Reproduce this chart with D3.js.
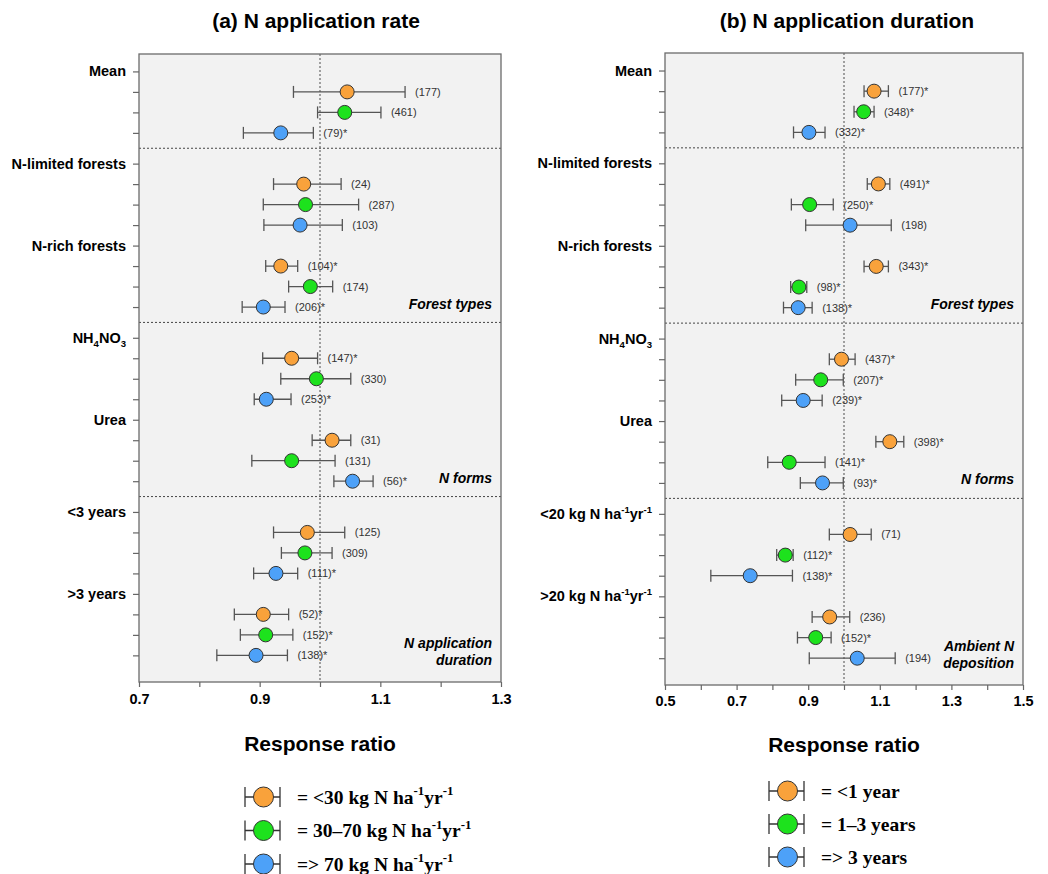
<!DOCTYPE html>
<html>
<head>
<meta charset="utf-8">
<script src="https://cdn.jsdelivr.net/npm/d3@7"></script>
<style>
  body { margin: 0; background: #fff; }
  svg { display: block; font-family: "Liberation Sans", Arial, sans-serif; }
</style>
</head>
<body>
<script>
// === data (rows: 3 series per category)
var colors = ["#F9A23B", "#1DE21D", "#4DA1F8"];

// (a) N application rate
var rateSections = [["Mean"], ["N-limited forests", "N-rich forests"], ["NH_{4}NO_{3}", "Urea"], ["<3 years", ">3 years"]];
var rateSectionTitles = ["", "Forest types", "N forms", "N application|duration"];
var rateMean = [1.045, 1.041, 0.935, 0.973, 0.976, 0.967, 0.935, 0.984, 0.906, 0.953, 0.994, 0.911, 1.020, 0.953, 1.054, 0.979, 0.975, 0.927, 0.906, 0.910, 0.894];
var rateLow  = [0.956, 0.996, 0.873, 0.923, 0.906, 0.907, 0.910, 0.948, 0.871, 0.905, 0.935, 0.891, 0.987, 0.887, 1.023, 0.923, 0.936, 0.890, 0.858, 0.868, 0.829];
var rateHigh = [1.141, 1.101, 0.989, 1.035, 1.064, 1.037, 0.963, 1.021, 0.942, 0.996, 1.051, 0.952, 1.051, 1.025, 1.088, 1.041, 1.020, 0.963, 0.948, 0.955, 0.946];
var rateN    = [177, 461, 79, 24, 287, 103, 104, 174, 206, 147, 330, 253, 31, 131, 56, 125, 309, 111, 52, 152, 138];
var rateSig  = [0, 0, 1, 0, 0, 0, 1, 0, 1, 1, 0, 1, 0, 0, 1, 0, 0, 1, 1, 1, 1];
var rateTicks = [0.7, 0.8, 0.9, 1.0, 1.1, 1.2, 1.3];
var rateLegend = ["= <30 kg N ha^{-1}yr^{-1}", "= 30\u201370 kg N ha^{-1}yr^{-1}", "=> 70 kg N ha^{-1}yr^{-1}"];

// (b) N application duration
var durSections = [["Mean"], ["N-limited forests", "N-rich forests"], ["NH_{4}NO_{3}", "Urea"], ["<20 kg N ha^{-1}yr^{-1}", ">20 kg N ha^{-1}yr^{-1}"]];
var durSectionTitles = ["", "Forest types", "N forms", "Ambient N|deposition"];
var durMean = [1.084, 1.055, 0.902, 1.096, 0.904, 1.017, 1.090, 0.874, 0.872, 0.993, 0.935, 0.886, 1.128, 0.847, 0.940, 1.017, 0.836, 0.738, 0.960, 0.921, 1.037];
var durLow  = [1.056, 1.028, 0.859, 1.065, 0.853, 0.893, 1.056, 0.851, 0.831, 0.959, 0.865, 0.826, 1.089, 0.787, 0.878, 0.959, 0.812, 0.628, 0.911, 0.870, 0.903];
var durHigh = [1.124, 1.084, 0.947, 1.128, 0.970, 1.132, 1.124, 0.896, 0.911, 1.031, 0.998, 0.939, 1.167, 0.947, 0.998, 1.076, 0.858, 0.856, 1.016, 0.964, 1.143];
var durN    = [177, 348, 332, 491, 250, 198, 343, 98, 138, 437, 207, 239, 398, 141, 93, 71, 112, 138, 236, 152, 194];
var durSig  = [1, 1, 1, 1, 1, 0, 1, 1, 1, 1, 1, 1, 1, 1, 1, 0, 1, 1, 0, 1, 0];
var durTicks = [0.5, 0.6, 0.7, 0.8, 0.9, 1.0, 1.1, 1.2, 1.3, 1.4, 1.5];
var durLegend = ["= <1 year", "= 1\u20133 years", "=> 3 years"];

var svg = d3.select('body').append('svg')
  .attr('width', 1048)
  .attr('height', 874);

// text with _{sub} and ^{sup} pieces
function rich(text, str, size) {
  var parts = str.split(/(\^\{[^}]*\}|_\{[^}]*\})/).filter(s => s.length);
  var shift = 0;
  parts.forEach(function(p) {
    var t = text.append('tspan');
    if (p[0] === '^' || p[0] === '_') {
      var s = p[0] === '^' ? -size * 0.42 : size * 0.28;
      t.text(p.slice(2, -1)).attr('font-size', size * 0.66).attr('dy', s - shift);
      shift = s;
    } else {
      t.text(p).attr('dy', -shift);
      shift = 0;
    }
  });
}

function drawPanel(cfg) {
  var g = svg.append('g');

  // row positions: category label row + 3 series rows, half-row gap between sections
  var labelRows = [], itemRows = [], seps = [], lastRows = [];
  var pos = 0;
  cfg.sections.forEach(function(sec, si) {
    if (si > 0) { seps.push(pos - 0.25); pos += 0.5; }
    sec.forEach(function(cat) {
      labelRows.push({ label: cat, pos: pos });
      itemRows.push(pos + 1, pos + 2, pos + 3);
      pos += 4;
    });
    lastRows.push(pos - 1);
  });

  var x = d3.scaleLinear().domain(cfg.domain).range([cfg.left, cfg.right]);
  var y = d3.scaleLinear().domain([-0.85, 29.8]).range([cfg.top, cfg.bottom]);

  g.append('rect')
    .attr('x', cfg.left).attr('y', cfg.top)
    .attr('width', cfg.right - cfg.left).attr('height', cfg.bottom - cfg.top)
    .style('fill', '#f2f2f2');

  // reference line at 1
  g.append('line')
    .attr('x1', x(1)).attr('x2', x(1))
    .attr('y1', cfg.top).attr('y2', cfg.bottom)
    .style('stroke', '#8a8a8a').style('stroke-width', 1.6).style('stroke-dasharray', '2,2');

  // section separators
  g.selectAll('.sep').data(seps).enter().append('line')
    .attr('x1', cfg.left).attr('x2', cfg.right)
    .attr('y1', d => y(d)).attr('y2', d => y(d))
    .style('stroke', '#444').style('stroke-width', 1).style('stroke-dasharray', '2,2');

  g.append('rect')
    .attr('x', cfg.left).attr('y', cfg.top)
    .attr('width', cfg.right - cfg.left).attr('height', cfg.bottom - cfg.top)
    .style('fill', 'none').style('stroke', '#6b6b6b').style('stroke-width', 1.3);

  // axes
  var yAxis = g.append('g')
    .attr('transform', `translate(${cfg.left},0)`)
    .call(d3.axisLeft(y).tickValues(labelRows.map(d => d.pos).concat(itemRows)).tickSize(6).tickFormat(''));
  yAxis.select('.domain').remove();
  yAxis.selectAll('line').style('stroke', '#666').style('stroke-width', 1.2);

  var xAxis = g.append('g')
    .attr('transform', `translate(0,${cfg.bottom})`)
    .call(d3.axisBottom(x).tickValues(cfg.ticks).tickSize(5).tickPadding(cfg.pad)
      .tickFormat((d, i) => i % 2 === 0 ? d3.format('.1f')(d) : ''));
  xAxis.select('.domain').remove();
  xAxis.selectAll('line').style('stroke', '#666').style('stroke-width', 1.2);
  xAxis.selectAll('text')
    .style('font-family', '"Liberation Sans", Arial, sans-serif')
    .style('font-size', '14.5px').style('font-weight', 'bold').style('fill', '#000');

  // category labels
  labelRows.forEach(function(d) {
    var t = g.append('text')
      .attr('x', cfg.left - 13)
      .attr('y', y(d.pos) + 5)
      .attr('text-anchor', 'end')
      .style('font-size', '14.5px').style('font-weight', 'bold');
    rich(t, d.label, 14.5);
  });

  // section titles
  cfg.sectionTitles.forEach(function(title, si) {
    if (!title) return;
    var lines = title.split('|');
    var base = y(lastRows[si]) + (lines.length > 1 ? -7 : 1.5);
    lines.forEach(function(l, li) {
      g.append('text')
        .attr('x', cfg.right - 9)
        .attr('y', base + li * 17)
        .attr('text-anchor', 'end')
        .style('font-size', '14px').style('font-weight', 'bold').style('font-style', 'italic')
        .text(l);
    });
  });

  // error bars + points
  var rows = cfg.mean.map((m, i) => ({ m: m, lo: cfg.low[i], hi: cfg.high[i], n: cfg.n[i], sig: cfg.sig[i], pos: itemRows[i], c: colors[i % 3] }));
  var bars = g.selectAll('.bar').data(rows).enter().append('g').attr('class', 'bar');
  bars.append('line')
    .attr('x1', d => x(d.lo)).attr('x2', d => x(d.hi))
    .attr('y1', d => y(d.pos)).attr('y2', d => y(d.pos))
    .style('stroke', '#555').style('stroke-width', 1.3);
  ['lo', 'hi'].forEach(function(k) {
    bars.append('line')
      .attr('x1', d => x(d[k])).attr('x2', d => x(d[k]))
      .attr('y1', d => y(d.pos) - 6).attr('y2', d => y(d.pos) + 6)
      .style('stroke', '#555').style('stroke-width', 1.3);
  });
  bars.append('circle')
    .attr('cx', d => x(d.m)).attr('cy', d => y(d.pos)).attr('r', 7)
    .style('fill', d => d.c).style('stroke', '#333').style('stroke-width', 1);
  bars.append('text')
    .attr('x', d => x(d.hi) + 10).attr('y', d => y(d.pos) + 4)
    .style('font-size', '11px').style('fill', '#333')
    .text(d => '(' + d.n + ')' + (d.sig ? '*' : ''));

  // title
  svg.append('text')
    .attr('x', (cfg.left + cfg.right) / 2 + cfg.titleShift).attr('y', 28)
    .attr('text-anchor', 'middle')
    .style('font-size', '21px').style('font-weight', 'bold')
    .text(cfg.title);

  // legend
  svg.append('text')
    .attr('x', (cfg.left + cfg.right) / 2).attr('y', cfg.legendTop)
    .attr('text-anchor', 'middle')
    .style('font-size', '21px').style('font-weight', 'bold')
    .text('Response ratio');

  cfg.legend.forEach(function(lab, i) {
    var ly = cfg.legendRow0 + i * cfg.legendStep;
    var lg = svg.append('g');
    lg.append('line').attr('x1', cfg.legendX).attr('x2', cfg.legendX + 35).attr('y1', ly).attr('y2', ly)
      .style('stroke', '#333').style('stroke-width', 1.3);
    [0, 35].forEach(function(dx) {
      lg.append('line').attr('x1', cfg.legendX + dx).attr('x2', cfg.legendX + dx).attr('y1', ly - 10).attr('y2', ly + 10)
        .style('stroke', '#333').style('stroke-width', 1.3);
    });
    lg.append('circle').attr('cx', cfg.legendX + 18.5).attr('cy', ly).attr('r', 10)
      .style('fill', colors[i]).style('stroke', '#333').style('stroke-width', 1);
    var t = lg.append('text')
      .attr('x', cfg.legendX + 52).attr('y', ly + 6.5)
      .style('font-family', '"Liberation Serif", "Times New Roman", serif')
      .style('font-size', '19.5px').style('font-weight', 'bold');
    rich(t, lab, 19.5);
  });
}

drawPanel({
  title: '(a) N application rate', titleShift: -4,
  sections: rateSections, sectionTitles: rateSectionTitles,
  mean: rateMean, low: rateLow, high: rateHigh, n: rateN, sig: rateSig,
  domain: [0.7, 1.3], ticks: rateTicks, pad: 7,
  left: 139, right: 501, top: 54, bottom: 682,
  legend: rateLegend, legendTop: 751, legendX: 245, legendRow0: 797, legendStep: 33.5
});

drawPanel({
  title: '(b) N application duration', titleShift: 3,
  sections: durSections, sectionTitles: durSectionTitles,
  mean: durMean, low: durLow, high: durHigh, n: durN, sig: durSig,
  domain: [0.5, 1.5], ticks: durTicks, pad: 6,
  left: 665, right: 1023, top: 53, bottom: 685,
  legend: durLegend, legendTop: 752, legendX: 769, legendRow0: 791, legendStep: 33
});
</script>
</body>
</html>
